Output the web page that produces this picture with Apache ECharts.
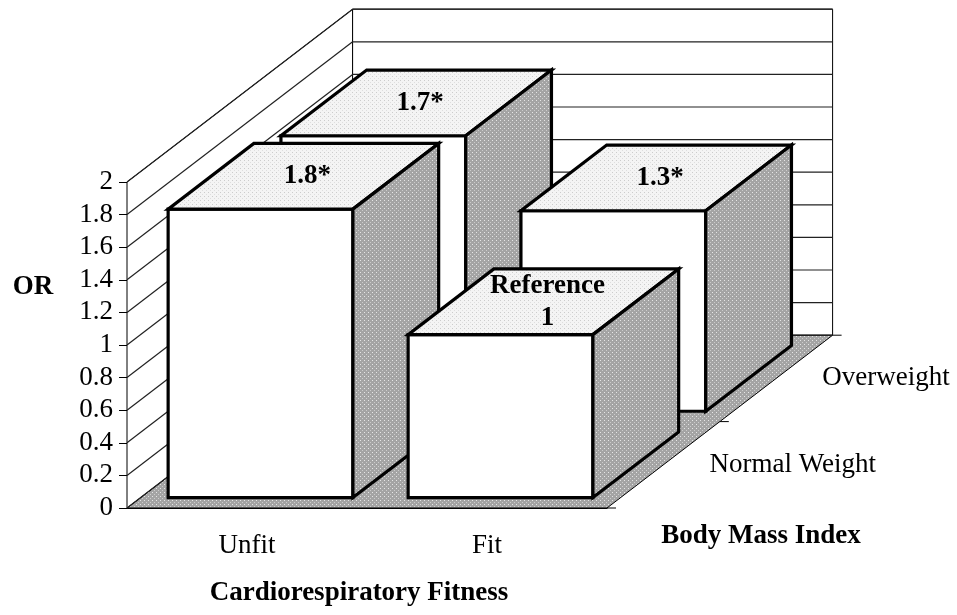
<!DOCTYPE html>
<html>
<head>
<meta charset="utf-8">
<script src="https://cdn.jsdelivr.net/npm/echarts@6/dist/echarts.min.js"></script>
<style>
  html, body { margin: 0; padding: 0; background: #fff; }
  #chart { width: 957px; height: 615px; }
</style>
</head>
<body>
<div id="chart"></div>
<script>
// data
const fitness = ['Unfit', 'Fit'];
const bmi = ['Normal Weight', 'Overweight'];      // front row first
const orNormal = [1.77, 1.0];
const orOver = [1.69, 1.23];
const labelsNormal = ['1.8*', 'Reference\n1'];
const labelsOver = ['1.7*', '1.3*'];
const yTicks = [0, 0.2, 0.4, 0.6, 0.8, 1, 1.2, 1.4, 1.6, 1.8, 2];

const FONT = '"Liberation Serif", "Times New Roman", serif';
const FS = 27;

const chart = echarts.init(document.getElementById('chart'));
window.addEventListener('resize', () => chart.resize());

// small dotted fills like the printed halftone
function makePattern(bg, dot1, dot2) {
    const c = document.createElement('canvas');
    c.width = 4; c.height = 4;
    const ctx = c.getContext('2d');
    ctx.fillStyle = bg; ctx.fillRect(0, 0, 4, 4);
    ctx.fillStyle = dot1; ctx.fillRect(0, 0, 1, 1);
    ctx.fillStyle = dot2; ctx.fillRect(2, 2, 1, 1);
    return { image: c, repeat: 'repeat' };
}
const sideFill = makePattern('#a4a4a4', '#e6e6e6', '#cccccc');
const topFill = makePattern('#f4f4f4', '#cccccc', '#dedede');

// depth step of one BMI row, taken from the category band width
function rowVec(api) {
    const bw = api.size([1, 0])[0];
    return [bw * 0.47, -bw * 0.36];
}

function renderWalls(params, api) {
    const rv = rowVec(api);
    const n = bmi.length;
    const D = [rv[0] * n, rv[1] * n];
    const bw = api.size([1, 0])[0];
    const p0 = api.coord([0, 0]);
    const xl = p0[0] - bw / 2, xr = xl + bw * fitness.length;
    const yb = p0[1], yt = api.coord([0, yTicks[yTicks.length - 1]])[1];
    const line = { stroke: '#000', lineWidth: 1, fill: null };

    const children = [
        { type: 'polygon', shape: { points: [[xl, yb], [xr, yb], [xr + D[0], yb + D[1]], [xl + D[0], yb + D[1]]] },
          style: { fill: sideFill, stroke: '#000', lineWidth: 1 } },
        { type: 'polygon', shape: { points: [[xl, yb], [xl, yt], [xl + D[0], yt + D[1]], [xl + D[0], yb + D[1]]] },
          style: { fill: '#fff', stroke: '#000', lineWidth: 1 } },
        { type: 'rect', shape: { x: xl + D[0], y: yt + D[1], width: xr - xl, height: yb - yt },
          style: { fill: '#fff', stroke: '#000', lineWidth: 1 } }
    ];
    // depth axis ticks and labels
    for (let k = 0; k <= n; k++) {
        const x = xr + rv[0] * k, y = yb + rv[1] * k;
        children.push({ type: 'line', shape: { x1: x, y1: y, x2: x + 9, y2: y }, style: line });
    }
    bmi.forEach((name, r) => {
        children.push({
            type: 'text',
            x: xr + rv[0] * (r + 0.5) + 46, y: yb + rv[1] * (r + 0.5),
            style: { text: name, font: FS + 'px ' + FONT, fill: '#000', align: 'left', verticalAlign: 'middle' }
        });
    });
    return { type: 'group', children: children };
}

function renderGrid(params, api) {
    const rv = rowVec(api);
    const n = bmi.length;
    const D = [rv[0] * n, rv[1] * n];
    const bw = api.size([1, 0])[0];
    const p = api.coord([0, api.value(1)]);
    const xl = p[0] - bw / 2, xr = xl + bw * fitness.length;
    const st = { stroke: '#222', lineWidth: 1.2, fill: null };
    return {
        type: 'group',
        children: [
            { type: 'line', shape: { x1: xl, y1: p[1], x2: xl + D[0], y2: p[1] + D[1] }, style: st },
            { type: 'line', shape: { x1: xl + D[0], y1: p[1] + D[1], x2: xr + D[0], y2: p[1] + D[1] }, style: st }
        ]
    };
}

function renderBar(params, api) {
    const c = api.value(0), v = api.value(1), r = api.value(2);
    const rv = rowVec(api);
    const bw = api.size([1, 0])[0];
    const w = bw * 0.77;
    const base = api.coord([c, 0]);
    const top = api.coord([c, v]);
    const ox = rv[0] * (r + 0.12), oy = rv[1] * (r + 0.12);
    const dx = rv[0] * 0.76, dy = rv[1] * 0.76;
    const x0 = base[0] - w / 2 + ox, x1 = base[0] + w / 2 + ox;
    const y0 = base[1] + oy, y1 = top[1] + oy;
    const edge = { stroke: '#000', lineWidth: 3.2, lineJoin: 'miter' };
    const label = (r === 0 ? labelsNormal : labelsOver)[c];
    return {
        type: 'group',
        children: [
            { type: 'polygon', shape: { points: [[x0, y1], [x1, y1], [x1, y0], [x0, y0]] },
              style: Object.assign({ fill: '#fff' }, edge) },
            { type: 'polygon', shape: { points: [[x0, y1], [x1, y1], [x1 + dx, y1 + dy], [x0 + dx, y1 + dy]] },
              style: Object.assign({ fill: topFill }, edge) },
            { type: 'polygon', shape: { points: [[x1, y1], [x1 + dx, y1 + dy], [x1 + dx, y0 + dy], [x1, y0]] },
              style: Object.assign({ fill: sideFill }, edge) },
            { type: 'text', x: (x0 + x1) / 2 + dx / 2 + 4, y: y1 + dy / 2,
              style: { text: label, font: 'bold ' + FS + 'px ' + FONT, fill: '#000', align: 'center',
                       verticalAlign: 'middle', lineHeight: 32 } }
        ]
    };
}

// back row first so the front row covers it
const barData = [];
[1, 0].forEach(r => {
    const vals = r === 0 ? orNormal : orOver;
    fitness.forEach((f, c) => barData.push([c, vals[c], r]));
});

chart.setOption({
    backgroundColor: '#fff',
    animation: false,
    grid: { left: 127, right: 350, top: 182, bottom: 107, containLabel: false, outerBoundsMode: 'none' },
    xAxis: {
        type: 'category',
        data: fitness,
        boundaryGap: true,
        axisLine: { lineStyle: { color: '#000', width: 1 } },
        axisTick: { length: 9, lineStyle: { color: '#000' } },
        axisLabel: { color: '#000', fontFamily: FONT, fontSize: FS, margin: 24 },
        splitLine: { show: false }
    },
    yAxis: {
        type: 'value',
        min: 0, max: 2, interval: 0.2,
        axisLine: { show: true, lineStyle: { color: '#000', width: 1 } },
        axisTick: { show: true, length: 8, lineStyle: { color: '#000' } },
        axisLabel: { color: '#000', fontFamily: FONT, fontSize: FS, margin: 14 },
        splitLine: { show: false }
    },
    graphic: [
        { type: 'text', x: 33, y: 287, style: { text: 'OR', font: 'bold ' + FS + 'px ' + FONT, fill: '#000', align: 'center', verticalAlign: 'middle' } },
        { type: 'text', x: 359, y: 593, style: { text: 'Cardiorespiratory Fitness', font: 'bold ' + FS + 'px ' + FONT, fill: '#000', align: 'center', verticalAlign: 'middle' } },
        { type: 'text', x: 761, y: 536, style: { text: 'Body Mass Index', font: 'bold ' + FS + 'px ' + FONT, fill: '#000', align: 'center', verticalAlign: 'middle' } }
    ],
    series: [
        { type: 'custom', name: 'walls', coordinateSystem: 'cartesian2d', renderItem: renderWalls,
          data: [[0, 0]], encode: { x: 0, y: 1 }, silent: true, clip: false },
        { type: 'custom', name: 'grid', coordinateSystem: 'cartesian2d', renderItem: renderGrid,
          data: yTicks.map(v => [0, v]), encode: { x: 0, y: 1 }, silent: true, clip: false },
        { type: 'custom', name: 'OR', coordinateSystem: 'cartesian2d', renderItem: renderBar,
          data: barData, encode: { x: 0, y: 1 }, clip: false }
    ]
});
</script>
</body>
</html>
